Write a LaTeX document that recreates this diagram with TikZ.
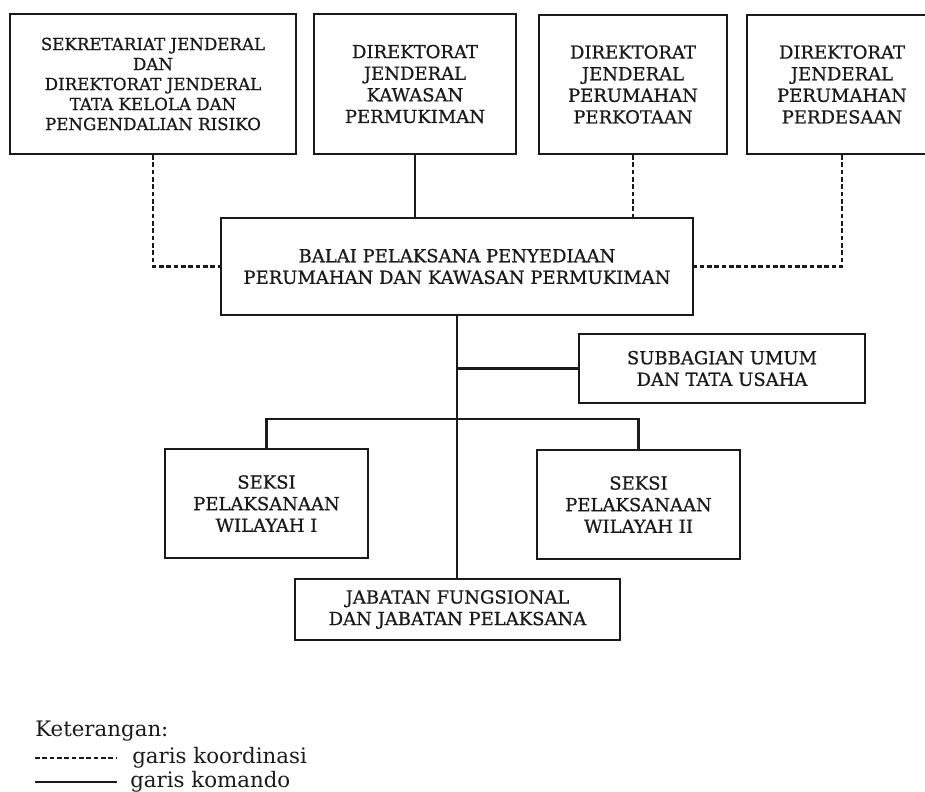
\documentclass[tikz,border=0pt]{standalone}
\usepackage{fontspec}
\setmainfont{DejaVu Serif}
\newfontfamily\boxfont{DejaVu Serif}[FakeBold=0.8]
\usepackage{tikz}
\usetikzlibrary{arrows.meta, positioning, calc}
\definecolor{ink}{HTML}{1A1A1A}

\begin{document}
\begin{tikzpicture}[x=0.75pt, y=-0.75pt,
    box/.style={draw=ink, line width=1.6pt, align=center, inner sep=0pt,
      text=ink, font=\boxfont\fontsize{13.5}{16.2}\selectfont},
    cmd/.style={draw=ink, line width=1.6pt},
    coord/.style={draw=ink, line width=1.6pt, dash pattern=on 3.5pt off 2pt},
    legend/.style={text=ink, inner sep=0pt, font=\fontsize{16}{19}\selectfont}]
  \useasboundingbox (0,0) rectangle (925,792);
  % Upper units
  \node[box, minimum width=214.5pt, minimum height=105pt,
    font=\boxfont\fontsize{12.5}{15}\selectfont] (sekjen) at (153,84)
    {SEKRETARIAT JENDERAL\\DAN\\DIREKTORAT JENDERAL\\TATA KELOLA DAN\\PENGENDALIAN RISIKO};
  \node[box, minimum width=151.5pt, minimum height=105pt] (djkp) at (415,84)
    {DIREKTORAT\\JENDERAL\\KAWASAN\\PERMUKIMAN};
  \node[box, minimum width=141pt, minimum height=104pt] (djpk) at (633,84.5)
    {DIREKTORAT\\JENDERAL\\PERUMAHAN\\PERKOTAAN};
  \node[box, minimum width=142.5pt, minimum height=104pt] (djpd) at (842,84.5)
    {DIREKTORAT\\JENDERAL\\PERUMAHAN\\PERDESAAN};
  % Balai
  \node[box, minimum width=354pt, minimum height=72.75pt] (balai) at (457,266.5)
    {BALAI PELAKSANA PENYEDIAAN\\PERUMAHAN DAN KAWASAN PERMUKIMAN};
  % Lower units
  \node[box, minimum width=214.5pt, minimum height=51.75pt] (subbag) at (722,368.5)
    {SUBBAGIAN UMUM\\DAN TATA USAHA};
  \node[box, minimum width=152.25pt, minimum height=81.75pt] (seksi1) at (266.5,503.5)
    {SEKSI\\PELAKSANAAN\\WILAYAH I};
  \node[box, minimum width=152.25pt, minimum height=81.75pt] (seksi2) at (638.5,504.5)
    {SEKSI\\PELAKSANAAN\\WILAYAH II};
  \node[box, minimum width=243.75pt, minimum height=45.75pt] (jabfung) at (457.5,609.5)
    {JABATAN FUNGSIONAL\\DAN JABATAN PELAKSANA};
  % Lines
  \draw[cmd] (djkp.south) -- (djkp.south |- balai.north);
  \draw[coord] (djpk.south) -- (djpk.south |- balai.north);
  \draw[coord] (sekjen.south) |- (balai.west);
  \draw[coord] (djpd.south) |- (balai.east);
  \draw[cmd] (balai.south) -- (balai.south |- jabfung.north);
  \draw[cmd] (subbag.west) -- (subbag.west -| balai.south);
  \coordinate (branch) at (balai.south |- 0,419);
  \draw[cmd] (seksi1.north) |- (branch) -| (seksi2.north);
  % Legend
  \node[legend, anchor=base west] (ket) at (35,736) {Keterangan:};
  \coordinate (dashA) at (35,758);
  \coordinate (dashB) at (117,758);
  \draw[ink, line width=1pt, dash pattern=on 3.5pt off 2pt] (dashA) -- (dashB);
  \node[legend, anchor=base west] (garkoor) at (132,763) {garis koordinasi};
  \coordinate (solA) at (35,782);
  \coordinate (solB) at (117,782);
  \draw[cmd] (solA) -- (solB);
  \node[legend, anchor=base west] (garkom) at (130,787) {garis komando};
\end{tikzpicture}
\end{document}
